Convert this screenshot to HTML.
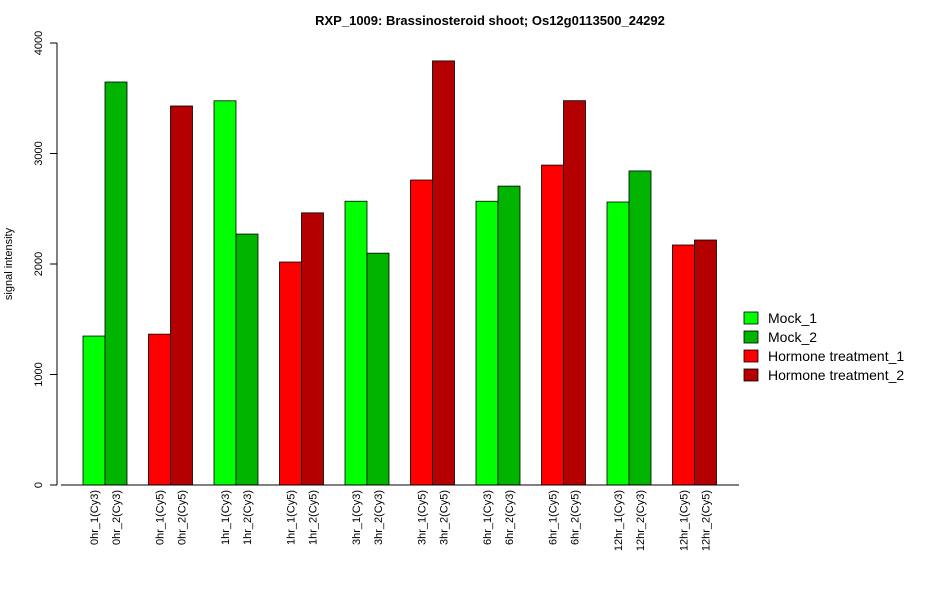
<!DOCTYPE html>
<html><head><meta charset="utf-8"><style>
body{margin:0;background:#fff;}
svg{font-family:"Liberation Sans",Arial,sans-serif;}
</style></head><body>
<svg id="chart" width="950" height="600">
<text x="490" y="25" text-anchor="middle" font-size="13" font-weight="bold">RXP_1009: Brassinosteroid shoot; Os12g0113500_24292</text>
<text transform="translate(12,264) rotate(-90)" text-anchor="middle" font-size="11">signal intensity</text>
<g id="yaxis"></g>
<g id="bars"></g>
<g id="xlabels"></g>
<line x1="61" y1="485" x2="739" y2="485" stroke="#000"/>
<g id="legend"></g>
</svg>
<script>
const labels=["0hr_1(Cy3)","0hr_2(Cy3)","0hr_1(Cy5)","0hr_2(Cy5)","1hr_1(Cy3)","1hr_2(Cy3)","1hr_1(Cy5)","1hr_2(Cy5)","3hr_1(Cy3)","3hr_2(Cy3)","3hr_1(Cy5)","3hr_2(Cy5)","6hr_1(Cy3)","6hr_2(Cy3)","6hr_1(Cy5)","6hr_2(Cy5)","12hr_1(Cy3)","12hr_2(Cy3)","12hr_1(Cy5)","12hr_2(Cy5)"];
const values=[1348,3647,1365,3430,3477,2271,2018,2463,2568,2098,2760,3838,2568,2705,2895,3478,2561,2842,2172,2217];
const seriesIdx=[0,1,2,3,0,1,2,3,0,1,2,3,0,1,2,3,0,1,2,3];
const seriesNames=["Mock_1","Mock_2","Hormone treatment_1","Hormone treatment_2"];
const seriesColors=["#00ff00","#00b400","#ff0000","#b40000"];
const yTicks=[0,1000,2000,3000,4000];
const NS="http://www.w3.org/2000/svg";
const y=v=>485-v*(442/4000);
const bw=22, x=i=>83+Math.floor(i/2)*65.5+(i%2)*bw;
function mk(t,a,p){const e=document.createElementNS(NS,t);for(const k in a)e.setAttribute(k,a[k]);p.appendChild(e);return e;}
const ya=document.getElementById('yaxis');
mk('line',{x1:57,y1:y(0),x2:57,y2:y(4000),stroke:'#000'},ya);
yTicks.forEach(t=>{
 const l=mk('line',{x1:50,y1:y(t),x2:57,y2:y(t),stroke:'#000'},ya);
 
 
 const tx=mk('text',{transform:`translate(42,${y(t)}) rotate(-90)`,'text-anchor':'middle','font-size':11},ya);
 tx.textContent=t;
 
 
});
const bg=document.getElementById('bars'),xl=document.getElementById('xlabels');
values.forEach((v,i)=>{
 const r=mk('rect',{x:x(i),y:y(v),width:bw,height:y(0)-y(v),fill:seriesColors[seriesIdx[i]],stroke:'#000','stroke-width':0.8},bg);
 
 
 const t=mk('text',{transform:`translate(${x(i)+bw/2+4},490) rotate(-90)`,'text-anchor':'end','font-size':11},xl);
 t.textContent=labels[i];
 
 
});
const lg=document.getElementById('legend');
seriesNames.forEach((n,i)=>{
 const yy=318+i*19;
 const r=mk('rect',{x:744,y:yy-6,width:14,height:12,fill:seriesColors[i],stroke:'#000','stroke-width':0.8},lg);
 
 
 const t=mk('text',{x:768,y:yy+5,'font-size':14},lg);
 t.textContent=n;
 
 
});
</script>
</body></html>
